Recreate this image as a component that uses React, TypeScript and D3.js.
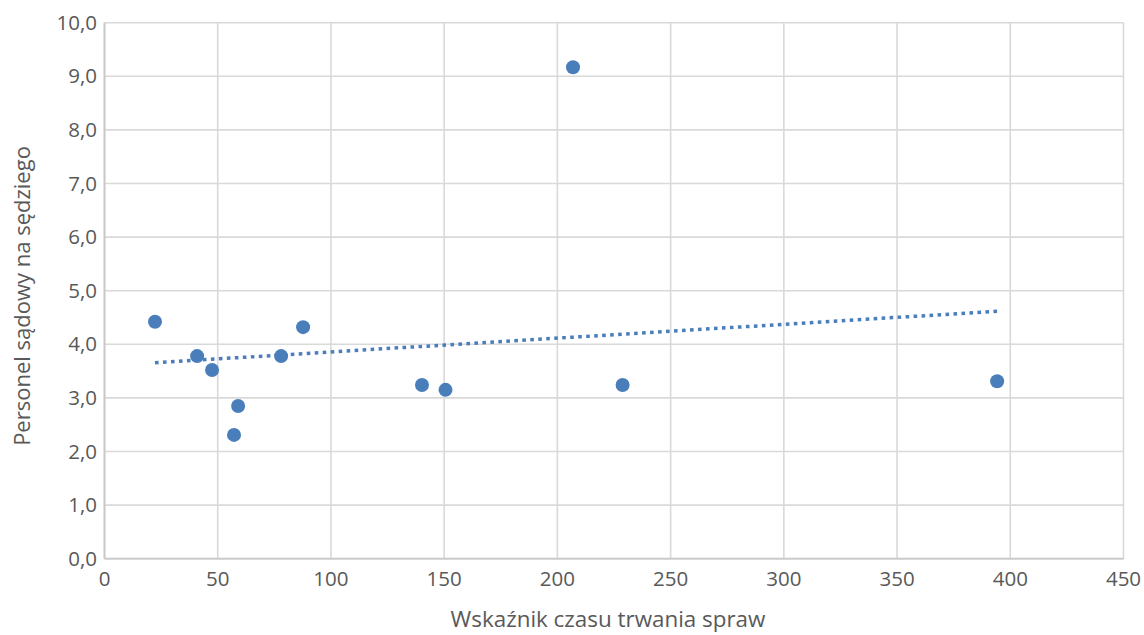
import React from "react";
import * as d3 from "d3";

const xValues: number[] = [22.3, 40.9, 47.5, 59.0, 57.2, 78.0, 87.7, 140.2, 150.6, 206.9, 228.8, 394.2];
const yValues: number[] = [4.42, 3.78, 3.52, 2.85, 2.31, 3.78, 4.32, 3.24, 3.15, 9.17, 3.24, 3.31];
const xTicks: number[] = [0, 50, 100, 150, 200, 250, 300, 350, 400, 450];
const yTicks: number[] = [0, 1, 2, 3, 4, 5, 6, 7, 8, 9, 10];
const xTitle = "Wskaźnik czasu trwania spraw";
const yTitle = "Personel sądowy na sędziego";

const W = 1144, H = 635;
const M = { left: 104.5, right: 1123.5, top: 22.7, bottom: 558.7 };
const FONT = "'Open Sans', sans-serif";
const TEXT = "#595959";
const GRID = "#d9d9d9";
const BLUE = "#4a7ebb";

export default function App() {
  const x = d3.scaleLinear().domain([0, 450]).range([M.left, M.right]);
  const y = d3.scaleLinear().domain([0, 10]).range([M.bottom, M.top]);
  const fmt = (v: number) => d3.format(".1f")(v).replace(".", ",");

  const pts = xValues.map((xv, i) => [xv, yValues[i]] as [number, number]);
  const mx = d3.mean(xValues)!;
  const my = d3.mean(yValues)!;
  const sxy = d3.sum(pts, (p) => (p[0] - mx) * (p[1] - my));
  const sxx = d3.sum(pts, (p) => (p[0] - mx) ** 2);
  const slope = sxy / sxx;
  const icpt = my - slope * mx;
  const [x0, x1] = d3.extent(xValues) as [number, number];
  const trend = d3.line<number>().x((v) => x(v)).y((v) => y(icpt + slope * v))([x0, x1]);

  return (
    <svg width={W} height={H} style={{ position: "absolute", left: 0, top: 0, background: "#fff" }}>
      <rect x={0} y={0} width={W} height={H} fill="#fff" />
      <g>
        {yTicks.map((t) => (
          <line key={"gy" + t} x1={M.left} x2={M.right} y1={y(t)} y2={y(t)} stroke={GRID} strokeWidth={1.6} />
        ))}
        {xTicks.map((t) => (
          <line key={"gx" + t} x1={x(t)} x2={x(t)} y1={M.top} y2={M.bottom} stroke={GRID} strokeWidth={1.6} />
        ))}
        <line x1={M.left} x2={M.right} y1={M.bottom} y2={M.bottom} stroke="#c8c8c8" strokeWidth={1.8} />
        <line x1={M.left} x2={M.left} y1={M.top} y2={M.bottom} stroke="#c8c8c8" strokeWidth={1.8} />
      </g>
      <g fontFamily={FONT} fontSize={20.5} fill={TEXT}>
        {yTicks.map((t) => (
          <text key={"ty" + t} x={97} y={y(t)} dy="0.35em" textAnchor="end">{fmt(t)}</text>
        ))}
        {xTicks.map((t) => (
          <text key={"tx" + t} x={x(t)} y={586} textAnchor="middle">{t}</text>
        ))}
      </g>
      <path d={trend || ""} fill="none" stroke={BLUE} strokeWidth={3.5} strokeDasharray="3.6 4.4" />
      {pts.map((p, i) => (
        <circle key={i} cx={x(p[0])} cy={y(p[1])} r={7} fill={BLUE} />
      ))}
      <text x={608} y={627} textAnchor="middle" fontFamily={FONT} fontSize={22.4} fill={TEXT}>{xTitle}</text>
      <text transform={`translate(30, ${296}) rotate(-90)`} textAnchor="middle" fontFamily={FONT} fontSize={22} fill={TEXT}>{yTitle}</text>
    </svg>
  );
}
